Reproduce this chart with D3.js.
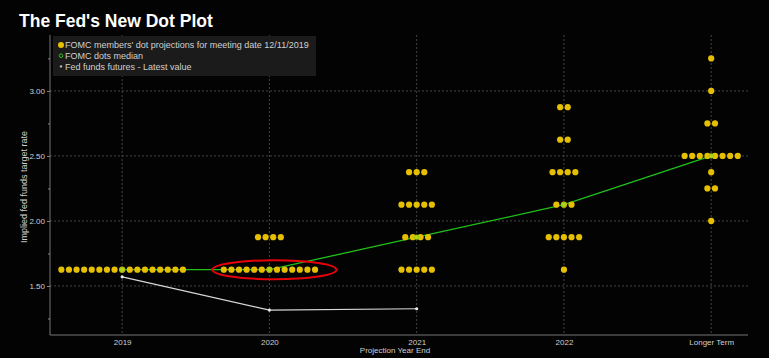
<!DOCTYPE html>
<html>
<head>
<meta charset="utf-8">
<script src="https://cdn.jsdelivr.net/npm/d3@7"></script>
<style>
  html, body { margin: 0; padding: 0; background: #000; }
  svg { display: block; }
</style>
</head>
<body>
<div id="chart"></div>
<script>
// values
const categories = ["2019", "2020", "2021", "2022", "Longer Term"];
const dots2019 = [[1.625, 17]];
const dots2020 = [[1.875, 4], [1.625, 13]];
const dots2021 = [[2.375, 3], [2.125, 5], [1.875, 4], [1.625, 5]];
const dots2022 = [[2.875, 2], [2.625, 2], [2.375, 4], [2.125, 3], [1.875, 5], [1.625, 1]];
const dotsLonger = [[3.25, 1], [3.0, 1], [2.75, 2], [2.5, 8], [2.375, 1], [2.25, 2], [2.0, 1]];
const medians = [1.625, 1.625, 1.875, 2.125, 2.5];
const futures = [1.57, 1.315, 1.325];
const yTicks = [1.5, 2.0, 2.5, 3.0];
const yMinorTicks = [1.25, 1.75, 2.25, 2.75, 3.25];

const width = 769, height = 358;
const plot = { left: 50, right: 748, top: 35, bottom: 335 };
const dotGap = 7.6;
const font = "'Liberation Sans', Arial, sans-serif";

const svg = d3.select("#chart").append("svg")
    .attr("width", width)
    .attr("height", height)
    .style("background", "#030303");

const x = d3.scaleLinear().domain([-0.49, 4.25]).range([plot.left, plot.right]);
const y = d3.scaleLinear().domain([1.123, 3.43]).range([plot.bottom, plot.top]);

// grid
svg.append("g").selectAll("line")
    .data(yTicks)
    .join("line")
    .attr("x1", plot.left).attr("x2", plot.right)
    .attr("y1", d => y(d)).attr("y2", d => y(d))
    .attr("stroke", "#555").attr("stroke-width", 0.8)
    .attr("stroke-dasharray", "2,2");

svg.append("g").selectAll("line")
    .data(categories)
    .join("line")
    .attr("x1", (d, i) => x(i)).attr("x2", (d, i) => x(i))
    .attr("y1", plot.top).attr("y2", plot.bottom)
    .attr("stroke", "#555").attr("stroke-width", 0.8)
    .attr("stroke-dasharray", "2,2");

// axes
const yAxis = svg.append("g")
    .attr("transform", `translate(${plot.left},0)`)
    .call(d3.axisLeft(y).tickValues(yTicks).tickFormat(d3.format(".2f")).tickSize(3).tickPadding(2));
svg.append("g")
    .attr("transform", `translate(${plot.left},0)`)
    .call(d3.axisLeft(y).tickValues(yMinorTicks).tickFormat("").tickSize(2))
    .call(g => g.select(".domain").remove());
const xAxis = svg.append("g")
    .attr("transform", `translate(0,${plot.bottom})`)
    .call(d3.axisBottom(x).tickValues(d3.range(categories.length))
        .tickFormat(i => categories[i]).tickSize(0).tickPadding(4));

svg.selectAll(".domain").attr("stroke", "#777");
svg.selectAll(".tick line").attr("stroke", "#888");
svg.selectAll(".tick text")
    .attr("fill", "#cfcfcf")
    .attr("font-size", 8)
    .attr("font-family", font);
yAxis.select(".domain").attr("d", `M0,${plot.bottom}V${plot.top}`);
xAxis.select(".domain").attr("d", `M${plot.left},0H${plot.right}`);

// axis titles
svg.append("text")
    .attr("transform", "translate(27,187) rotate(-90)")
    .attr("text-anchor", "middle")
    .attr("fill", "#cfcfcf")
    .attr("font-size", 9)
    .attr("font-family", font)
    .text("Implied fed funds target rate");

svg.append("text")
    .attr("x", (plot.left + plot.right) / 2 - 4).attr("y", 353)
    .attr("text-anchor", "middle")
    .attr("fill", "#cfcfcf")
    .attr("font-size", 8)
    .attr("font-family", font)
    .text("Projection Year End");

// futures line
const futLine = d3.line().x((d, i) => x(i)).y(d => y(d));
svg.append("path")
    .datum(futures)
    .attr("d", futLine)
    .attr("fill", "none")
    .attr("stroke", "#d8d8d8")
    .attr("stroke-width", 1.2);
svg.append("g").selectAll("circle")
    .data(futures)
    .join("circle")
    .attr("cx", (d, i) => x(i)).attr("cy", d => y(d))
    .attr("r", 1.6).attr("fill", "#e8e8e8");

// median line
const medLine = d3.line().x((d, i) => x(i)).y(d => y(d));
svg.append("path")
    .datum(medians)
    .attr("d", medLine)
    .attr("fill", "none")
    .attr("stroke", "#1fc21a")
    .attr("stroke-width", 1.3);

// dots
const allDots = [dots2019, dots2020, dots2021, dots2022, dotsLonger];
const points = [];
allDots.forEach((rows, i) => {
    rows.forEach(([v, n]) => {
        for (let k = 0; k < n; k++) {
            points.push({ i, v, off: (k - (n - 1) / 2) * dotGap });
        }
    });
});
svg.append("g").selectAll("circle")
    .data(points)
    .join("circle")
    .attr("cx", d => x(d.i) + d.off)
    .attr("cy", d => y(d.v))
    .attr("r", 3.1)
    .attr("fill", "#e6c000");

// median markers, mostly hidden under the dots
svg.append("g").selectAll("circle")
    .data(medians)
    .join("circle")
    .attr("cx", (d, i) => x(i)).attr("cy", d => y(d))
    .attr("r", 2.4)
    .attr("fill", "#bcd014")
    .attr("stroke", "#5cc61a")
    .attr("stroke-width", 0.5);

// red annotation ellipse round 2020
svg.append("ellipse")
    .attr("cx", x(1) + 5).attr("cy", y(1.625))
    .attr("rx", 62).attr("ry", 9.5)
    .attr("fill", "none")
    .attr("stroke", "#e8000a")
    .attr("stroke-width", 2);

// legend
const legend = svg.append("g").attr("transform", "translate(53,36)");
legend.append("rect")
    .attr("width", 263).attr("height", 40)
    .attr("fill", "#1b1b1b");
const legendItems = [
    { label: "FOMC members' dot projections for meeting date 12/11/2019", color: "#e6c000", r: 3, stroke: "none" },
    { label: "FOMC dots median", color: "none", r: 1.8, stroke: "#2ec41c" },
    { label: "Fed funds futures - Latest value", color: "#bbb", r: 1.2, stroke: "none" }
];
const li = legend.selectAll("g")
    .data(legendItems)
    .join("g")
    .attr("transform", (d, i) => `translate(0,${9 + i * 10.7})`);
li.append("circle")
    .attr("cx", 8).attr("cy", 0)
    .attr("r", d => d.r)
    .attr("fill", d => d.color)
    .attr("stroke", d => d.stroke)
    .attr("stroke-width", 1);
li.append("text")
    .attr("x", 12).attr("y", 3.2)
    .attr("fill", "#d0d0d0")
    .attr("font-size", 9)
    .attr("font-family", font)
    .text(d => d.label);

// title
svg.append("text")
    .attr("x", 19).attr("y", 27)
    .attr("fill", "#fff")
    .attr("font-size", 17.5)
    .attr("font-weight", "bold")
    .attr("font-family", font)
    .text("The Fed's New Dot Plot");
</script>
</body>
</html>
